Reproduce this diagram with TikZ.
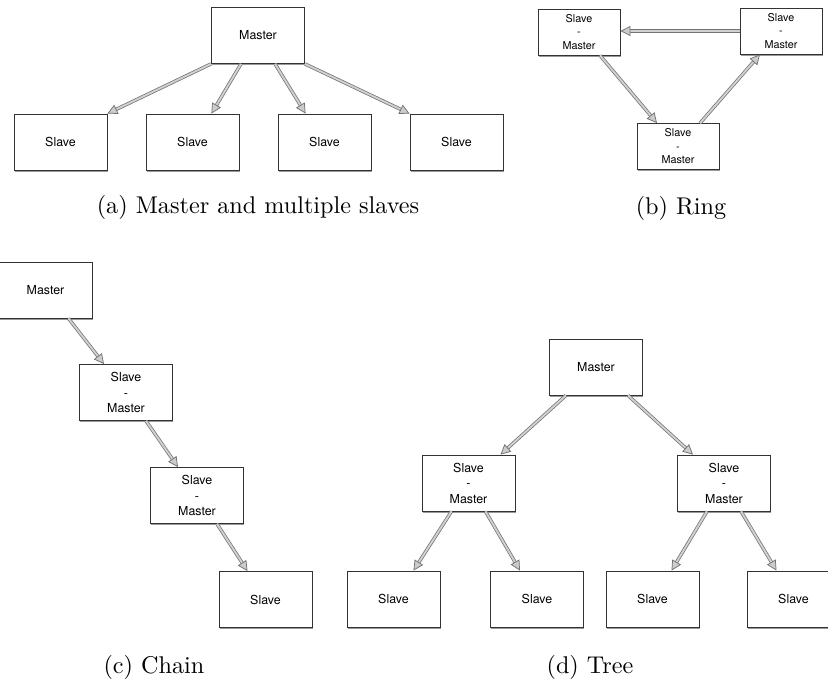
\documentclass[tikz,border=0pt]{standalone}
\usepackage{fontspec}
\newfontfamily\helv{TeX Gyre Heros}
\usetikzlibrary{arrows.meta,shadows}
\begin{document}
\begin{tikzpicture}[x=1pt,y=-1pt,
  box/.style={draw=black!80, line width=0.8pt, fill=white, minimum width=93pt, minimum height=56pt,
    inner sep=0pt, align=center, font=\helv\fontsize{12.4}{15.5}\selectfont,
    drop shadow={shadow xshift=0.6pt, shadow yshift=-1.8pt, opacity=0.4, fill=black}},
  rbox/.style={box, minimum width=82pt, minimum height=46pt, font=\helv\fontsize{10.8}{13.5}\selectfont},
  arr/.style={draw=black!55, line width=0.75pt, double=black!18, double distance=1.9pt,
    -{Triangle[open, length=10pt, width=10pt, fill=black!20]}},
  subcap/.style={anchor=base, scale=2.42, inner sep=0pt}]
\useasboundingbox (0,0) rectangle (828,680);

% (a) master and multiple slaves
\node[box] (aM) at (258,35.5) {Master};
\node[box] (aS1) at (60.5,142) {Slave};
\node[box] (aS2) at (192.5,142) {Slave};
\node[box] (aS3) at (324.5,142) {Slave};
\node[box] (aS4) at (456.5,142) {Slave};
\draw[arr] (aM.south west) -- (aS1.north east);
\draw[arr] ([xshift=-17pt]aM.south) -- ([xshift=-28pt]aS2.north east);
\draw[arr] ([xshift=17pt]aM.south) -- ([xshift=28pt]aS3.north west);
\draw[arr] (aM.south east) -- (aS4.north west);
\node[subcap] (capa) at (258,213) {(a) Master and multiple slaves};

% (b) ring
\node[rbox] (rTL) at (579,32) {Slave\\-\\Master};
\node[rbox] (rTR) at (781,31) {Slave\\-\\Master};
\node[rbox] (rB) at (678,146.5) {Slave\\-\\Master};
\draw[arr] (rTR.west) -- (rTL.east |- rTR.west);
\draw[arr] ([xshift=21pt]rTL.south) -- ([xshift=-21pt]rB.north);
\draw[arr] ([xshift=22pt]rB.north) -- ([xshift=-21pt]rTR.south);
\node[subcap] (capb) at (681,214) {(b) Ring};

% (c) chain
\node[box] (cM) at (45.5,290) {Master};
\node[box] (cSM1) at (126,392.5) {Slave\\-\\Master};
\node[box] (cSM2) at (197,495.5) {Slave\\-\\Master};
\node[box] (cS) at (265.5,599.5) {Slave};
\draw[arr] ([xshift=23pt]cM.south) -- ([xshift=-22pt]cSM1.north);
\draw[arr] ([xshift=20pt]cSM1.south) -- ([xshift=-19pt]cSM2.north);
\draw[arr] ([xshift=20pt]cSM2.south) -- ([xshift=-18pt]cS.north);
\node[subcap] (capc) at (154,673) {(c) Chain};

% (d) tree
\node[box] (tM) at (596,367) {Master};
\node[box] (tL) at (468.5,483) {Slave\\-\\Master};
\node[box] (tR) at (724,483) {Slave\\-\\Master};
\node[box] (tS1) at (393.5,599) {Slave};
\node[box] (tS2) at (537,599) {Slave};
\node[box] (tS3) at (652.5,599) {Slave};
\node[box] (tS4) at (793.5,599) {Slave};
\draw[arr] ([xshift=-30pt]tM.south) -- ([xshift=32pt]tL.north);
\draw[arr] ([xshift=32pt]tM.south) -- ([xshift=-31pt]tR.north);
\draw[arr] ([xshift=-17pt]tL.south) -- ([xshift=20pt]tS1.north);
\draw[arr] ([xshift=17pt]tL.south) -- ([xshift=-17pt]tS2.north);
\draw[arr] ([xshift=-17pt]tR.south) -- ([xshift=19pt]tS3.north);
\draw[arr] ([xshift=17pt]tR.south) -- ([xshift=-17pt]tS4.north);
\node[subcap] (capd) at (590,673) {(d) Tree};
\end{tikzpicture}
\end{document}
